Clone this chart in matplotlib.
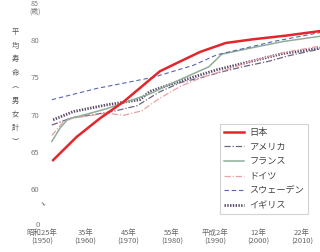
import matplotlib
matplotlib.use("Agg")
import matplotlib.pyplot as plt

plt.rcParams['font.family'] = ['Noto Sans CJK JP', 'DejaVu Sans']

# ---- data ----
jp_years = [1952.6, 1958, 1963.4, 1968.8, 1977.2, 1981.8, 1986.5, 1992.4, 1998.8, 2006.5, 2014.2]
jp_vals = [63.9, 67.0, 69.5, 71.7, 75.8, 77.1, 78.4, 79.6, 80.1, 80.6, 81.2]

us_years = [1952.3, 1957, 1962, 1967, 1972, 1977, 1982, 1987, 1992, 1997, 2002, 2007, 2014.2]
us_vals = [68.6, 69.6, 70.0, 70.5, 71.2, 73.0, 74.3, 75.0, 75.8, 76.5, 77.1, 77.9, 78.8]

fr_years = [1952.3, 1954.2, 1956, 1960, 1965, 1970, 1975, 1980, 1985, 1988.5, 1991.5, 1998, 2005.7, 2014.2]
fr_vals = [66.4, 68.2, 69.4, 70.0, 70.8, 71.8, 72.8, 74.2, 75.5, 76.4, 78.1, 78.9, 79.8, 80.5]

de_years = [1952.3, 1954.9, 1957, 1965, 1968.8, 1973, 1977.2, 1982, 1987, 1992, 1998, 2005.7, 2014.2]
de_vals = [67.2, 69.0, 69.5, 70.2, 69.9, 70.5, 72.2, 73.8, 75.0, 75.9, 77.1, 78.3, 79.2]

se_years = [1952.3, 1962.6, 1975.7, 1984.9, 1990.3, 2003.4, 2014.2]
se_vals = [72.0, 73.5, 75.0, 76.6, 78.0, 79.8, 81.0]

uk_years = [1952.6, 1957.2, 1964.9, 1972.6, 1974.9, 1982, 1990.3, 1998, 2005.7, 2014.2]
uk_vals = [69.3, 70.4, 71.3, 72.0, 73.1, 74.5, 76.0, 77.1, 78.2, 78.9]

series_names = ['日本', 'アメリカ', 'フランス', 'ドイツ', 'スウェーデン', 'イギリス']

x_ticks = [1950, 1960, 1970, 1980, 1990, 2000, 2010]
x_labels = ['昭和25年\n(1950)', '35年\n(1960)', '45年\n(1970)', '55年\n(1980)',
            '平成2年\n(1990)', '12年\n(2000)', '22年\n(2010)']
y_ticks = [55.3, 60, 65, 70, 75, 80]
y_labels = ['0', '60', '65', '70', '75', '80']

# ---- figure ----
fig = plt.figure(figsize=(3.2, 2.52), dpi=100)
fig.patch.set_facecolor('white')
ax = fig.add_axes([41/320, 26/252, 279/320, 226/252])
ax.set_xlim(1949.8, 2014.15)
ax.set_ylim(55.07, 85.36)
for s in ax.spines.values():
    s.set_visible(False)

ax.plot(uk_years, uk_vals, color='#5d4868', lw=2.0, ls=(0, (0.5, 0.5)), label=series_names[5], zorder=2)
ax.plot(us_years, us_vals, color='#6e6480', lw=0.9, ls=(0, (5, 1.5, 1, 1.5)), label=series_names[1], zorder=3)
ax.plot(de_years, de_vals, color='#eba0a4', lw=0.9, ls=(0, (5, 1.5, 1, 1.5)), label=series_names[3], zorder=3)
ax.plot(fr_years, fr_vals, color='#8fae98', lw=1.1, ls='-', label=series_names[2], zorder=3)
ax.plot(se_years, se_vals, color='#5a66b0', lw=0.8, ls=(0, (4, 2.5)), label=series_names[4], zorder=3)
ax.plot(jp_years, jp_vals, color='#e3262b', lw=1.8, ls='-', label=series_names[0], zorder=4)

ax.set_xticks(x_ticks)
ax.set_xticklabels(x_labels, fontsize=5.4, color='#666666', linespacing=1.15)
ax.set_yticks(y_ticks)
ax.set_yticklabels(y_labels, fontsize=5.6, color='#7a7a7a')
ax.tick_params(axis='both', length=0)
ax.tick_params(axis='x', pad=2)
ax.tick_params(axis='y', pad=1)

# axis unit and vertical label
fig.text(35/320, 1 - 0/252, '85\n(歳)', fontsize=5.0, color='#777777',
         ha='center', va='top', linespacing=1.0)
vert_chars = ['平', '均', '寿', '命', '︵', '男', '女', '計', '︶']
for i, ch in enumerate(vert_chars):
    fig.text(15/320, 1 - (32 + i*13.75)/252, ch, fontsize=5.2, color='#555555',
             ha='center', va='center')
# axis break mark
fig.text(42/320, 1 - 205/252, '~', fontsize=7, color='#555555', ha='center', va='center', rotation=-35)

# legend (order as reference)
handles, labels = ax.get_legend_handles_labels()
order = [labels.index(n) for n in series_names]
leg = ax.legend([handles[i] for i in order], [labels[i] for i in order],
                loc='lower right', bbox_to_anchor=(313/320, 33/252),
                bbox_transform=fig.transFigure, fontsize=6.6, frameon=True,
                fancybox=False, edgecolor='#c8c8c8', handlelength=2.2,
                handletextpad=0.6, labelspacing=0.62, borderpad=0.45,
                labelcolor='#444444')
leg.get_frame().set_linewidth(0.8)

fig.savefig('out.png', dpi=100, facecolor='white')
